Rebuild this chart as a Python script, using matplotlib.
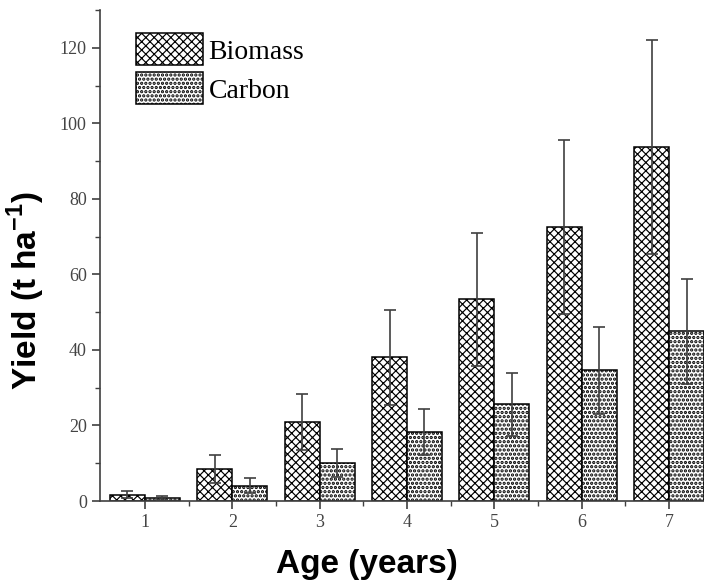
import numpy as np
import matplotlib.pyplot as plt

# Yield by stand age
ages = [1, 2, 3, 4, 5, 6, 7]
biomass = [1.7, 8.6, 20.9, 38.0, 53.4, 72.5, 93.7]
biomass_err = [1.0, 3.7, 7.4, 12.7, 17.6, 23.1, 28.3]
carbon = [0.8, 4.0, 10.0, 18.3, 25.6, 34.6, 44.9]
carbon_err = [0.6, 2.0, 3.7, 6.0, 8.3, 11.5, 13.8]

axis_grey = '#404040'

fig = plt.figure(figsize=(7.04, 5.86), dpi=100)
ax = fig.add_axes([0.142, 0.145, 0.858, 0.838])

x = np.array(ages)
w = 0.4
with plt.rc_context({'hatch.linewidth': 0.85}):
    b1 = ax.bar(x - w / 2, biomass, width=w, facecolor='white', edgecolor='black',
                linewidth=1.1, hatch='xxxx', label='Biomass', zorder=2)
with plt.rc_context({'hatch.linewidth': 1.6}):
    b2 = ax.bar(x + w / 2, carbon, width=w, facecolor='white', edgecolor='black',
                linewidth=1.1, hatch='....', label='Carbon', zorder=2)
for bars, hw in [(b1, 0.85), (b2, 1.6)]:
    for p in bars:
        if hasattr(p, 'set_hatch_linewidth'):
            p.set_hatch_linewidth(hw)

ax.errorbar(x - w / 2, biomass, yerr=biomass_err, fmt='none', ecolor=axis_grey,
            elinewidth=1.2, capsize=4, capthick=1.2, zorder=3)
ax.errorbar(x + w / 2, carbon, yerr=carbon_err, fmt='none', ecolor=axis_grey,
            elinewidth=1.2, capsize=4, capthick=1.2, zorder=3)

ax.set_xlim(0.485, 7.40)
ax.set_ylim(0, 130)
ax.set_xticks(ages)
ax.set_xticks(np.arange(1.5, 7.0, 1.0), minor=True)
ax.set_yticks(np.arange(0, 121, 20))
ax.set_yticks(np.arange(10, 131, 20), minor=True)

for s in ['top', 'right']:
    ax.spines[s].set_visible(False)
for s in ['left', 'bottom']:
    ax.spines[s].set_color(axis_grey)
    ax.spines[s].set_linewidth(1.2)
ax.tick_params(which='major', direction='out', length=6, width=1.2, color=axis_grey,
               labelcolor='#444444', labelsize=13)
ax.tick_params(which='minor', direction='out', length=3.5, width=1.0, color=axis_grey)
for lbl in ax.get_xticklabels() + ax.get_yticklabels():
    lbl.set_fontfamily('Liberation Serif')

ax.set_xlabel('Age (years)', fontsize=24, fontweight='bold',
              fontfamily='Liberation Sans')
ax.set_ylabel('Yield (t ha$^{\\mathregular{-1}}$)', fontsize=24, fontweight='bold',
              fontfamily='Liberation Sans')
ax.xaxis.set_label_coords(0.442, -0.098)
ax.yaxis.set_label_coords(-0.088, 0.428)

leg = ax.legend(loc='upper left', bbox_to_anchor=(0.042, 0.975), frameon=False,
                prop={'family': 'Liberation Serif', 'size': 20},
                handlelength=2.4, handleheight=1.4, handletextpad=0.2,
                labelspacing=0.25, borderaxespad=0)
for h, hw in zip(leg.get_patches(), [0.85, 1.6]):
    if hasattr(h, 'set_hatch_linewidth'):
        h.set_hatch_linewidth(hw)

fig.savefig('out.png', dpi=100)
